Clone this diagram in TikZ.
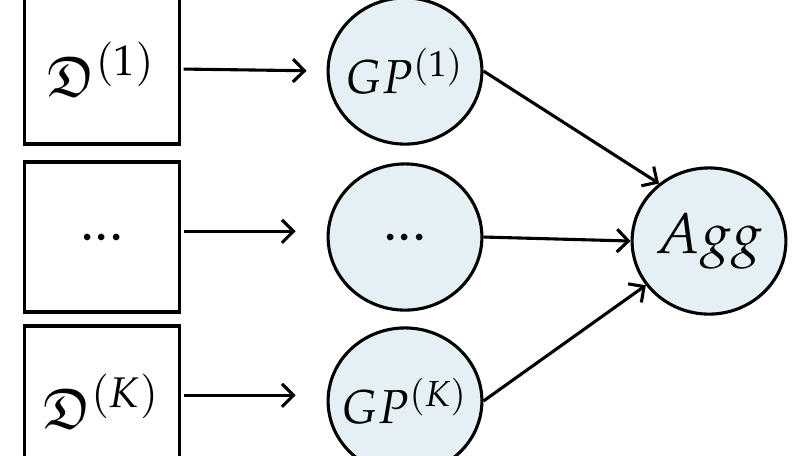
\documentclass[tikz,border=0pt]{standalone}
\usepackage{amssymb}
\usepackage{mathpazo}
\usetikzlibrary{shapes.geometric,arrows.meta}
\definecolor{gpfill}{RGB}{228,240,243}
\begin{document}
\begin{tikzpicture}[x=0.21pt,y=-0.21pt,
  databox/.style={draw,line width=0.65pt,minimum width=32.4pt,minimum height=31.5pt,inner sep=0pt,font=\large},
  gpnode/.style={ellipse,draw,line width=0.65pt,fill=gpfill,minimum width=32.3pt,minimum height=30.7pt,inner sep=-3pt},
  feed/.style={-{Straight Barb[length=2.4pt,width=4.8pt]},line width=0.65pt,shorten >=6.5pt,shorten <=0.6pt},
  toagg/.style={-{Straight Barb[length=2.4pt,width=4.8pt]},line width=0.65pt}]
\useasboundingbox (0,0) rectangle (808,455);
\clip (0,0) rectangle (808,455);
% local data sets
\node[databox] (data1) at (102,69) {$\mathfrak{D}^{(1)}$};
\node[databox] (datam) at (102,237) {$...$};
\node[databox] (dataK) at (102,401) {$\mathfrak{D}^{(K)}$};
% local experts
\node[gpnode] (gp1) at (405,71) {$GP^{(1)}$};
\node[gpnode,font=\large] (gpm) at (405,237) {$...$};
\node[gpnode] (gpK) at (405,401) {$GP^{(K)}$};
% aggregation
\node[gpnode,font=\large] (agg) at (709,241) {$Agg$};
\draw[feed,shorten >=4.2pt] (data1.east) -- (gp1.west);
\draw[feed] ([yshift=1.2pt]datam.east) -- ([yshift=1.2pt]gpm.west);
\draw[feed] ([yshift=1.2pt]dataK.east) -- ([yshift=1.2pt]gpK.west);
\draw[toagg] (gp1.east) -- (agg.131);
\draw[toagg] (gpm.east) -- (agg.west);
\draw[toagg] (gpK.east) -- (agg.215);
\end{tikzpicture}
\end{document}
